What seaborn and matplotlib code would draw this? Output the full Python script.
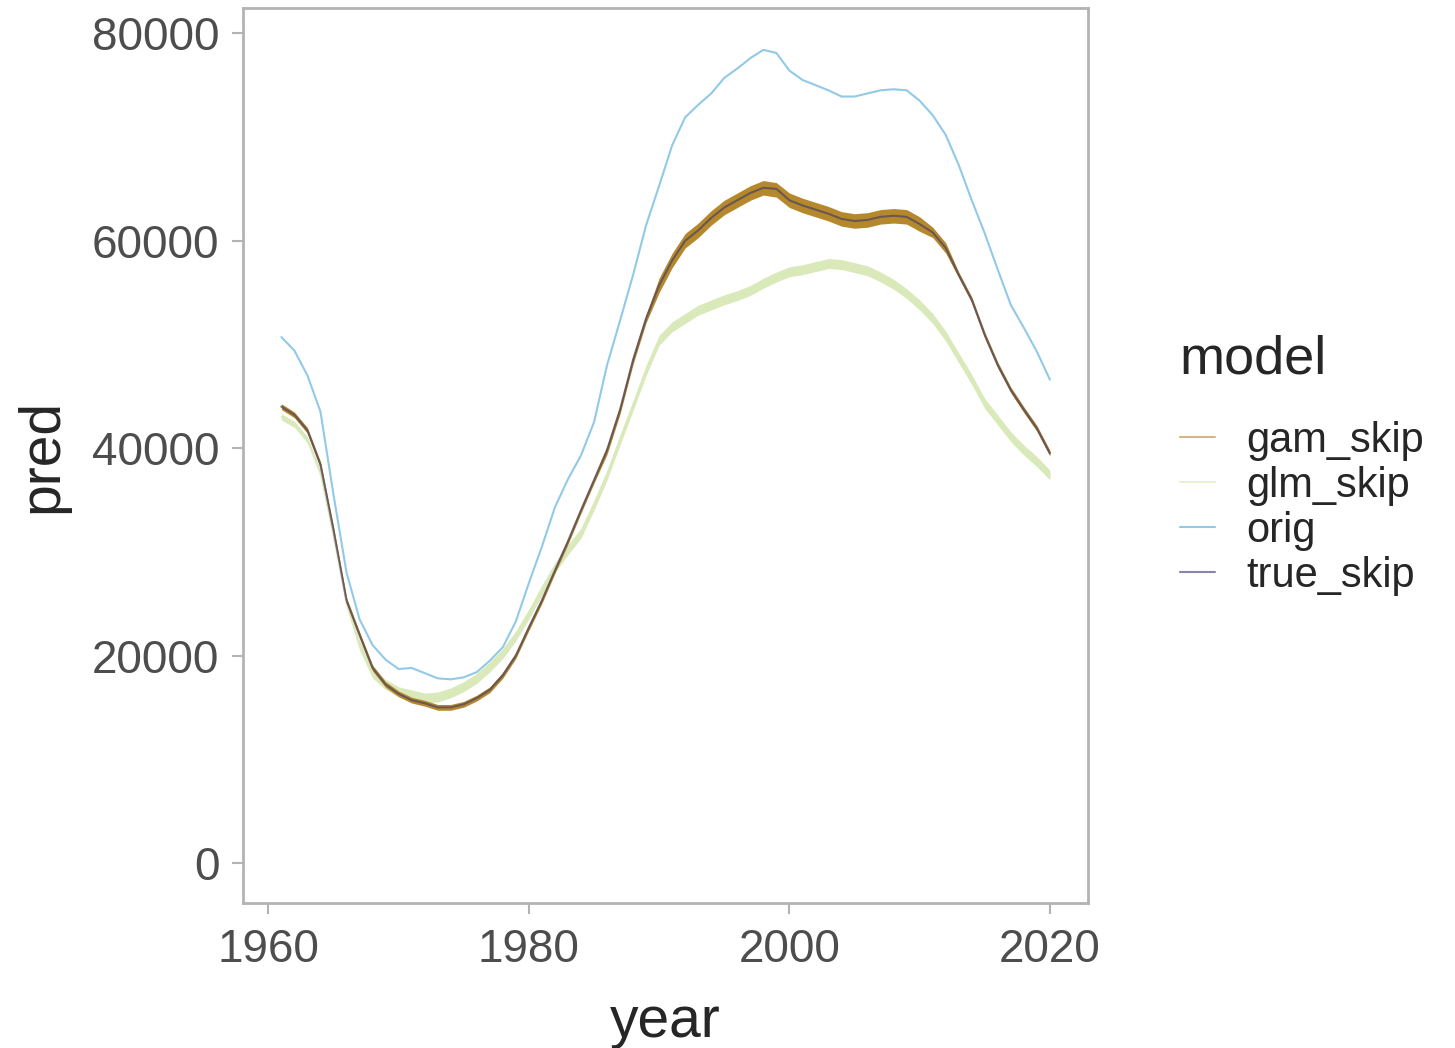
import numpy as np
import pandas as pd
import matplotlib
matplotlib.use('Agg')
import matplotlib.pyplot as plt
import seaborn as sns

# values, one per year 1961..2020
years = list(range(1961, 2021))

orig = [50700, 49400, 47000, 43500, 35500, 28000, 23500, 21000, 19600, 18700,
        18800, 18300, 17800, 17700, 17900, 18400, 19500, 20800, 23300, 27000,
        30500, 34300, 37000, 39300, 42500, 48000, 52300, 56700, 61500, 65300,
        69200, 71900, 73100, 74200, 75700, 76600, 77600, 78400, 78100, 76400,
        75500, 75000, 74500, 73900, 73900, 74200, 74500, 74600, 74500, 73500,
        72100, 70200, 67300, 63900, 60700, 57200, 53800, 51600, 49300, 46600]

gam_skip = [44000, 43200, 41700, 38400, 32100, 25300, 22000, 18800, 17200, 16300,
            15700, 15400, 15000, 15000, 15300, 15900, 16700, 18100, 20000, 22700,
            25300, 28200, 31000, 34000, 36900, 39800, 43700, 48500, 52500, 55700,
            58100, 60000, 61000, 62200, 63200, 63900, 64600, 65100, 64900, 63900,
            63400, 63000, 62600, 62100, 61900, 62000, 62300, 62400, 62300, 61600,
            60800, 59300, 56700, 54300, 50900, 48000, 45600, 43700, 41900, 39500]

gam_half = [280] * 25 + [400] * 4 + [700] * 21 + [500] * 2 + [280] * 8

glm_skip = [43000, 42300, 40800, 37600, 31500, 25000, 21000, 18300, 17200, 16500,
            16200, 15900, 16000, 16400, 17000, 17800, 18900, 20200, 21900, 24000,
            26300, 28500, 30200, 31800, 34500, 37400, 40800, 44100, 47500, 50400,
            51700, 52500, 53300, 53800, 54300, 54700, 55200, 55900, 56500, 57000,
            57200, 57500, 57800, 57700, 57400, 57100, 56500, 55800, 54900, 53800,
            52500, 50800, 48700, 46600, 44300, 42700, 41100, 39800, 38700, 37400]

glm_half = [300] * 6 + [480] * 54

true_skip = [44000, 43200, 41700, 38400, 32100, 25300, 22000, 18800, 17200, 16300,
             15700, 15400, 15000, 15000, 15300, 15900, 16700, 18100, 20000, 22700,
             25300, 28200, 31000, 34000, 36900, 39800, 43700, 48500, 52500, 55700,
             58100, 60000, 61000, 62200, 63200, 63900, 64600, 65100, 65000, 63900,
             63400, 63000, 62600, 62100, 61900, 62000, 62300, 62400, 62300, 61600,
             60800, 59300, 56700, 54300, 50900, 48000, 45600, 43700, 41900, 39500]

models = ['gam_skip', 'glm_skip', 'orig', 'true_skip']
colors = {'gam_skip': '#b5892b', 'glm_skip': '#d9e9b9',
          'orig': '#4aa6d8', 'true_skip': '#39346e'}
widths = {'gam_skip': 1.5, 'glm_skip': 1.5, 'orig': 1.5, 'true_skip': 1.8}

df = pd.DataFrame({
    'year': years * 4,
    'pred': gam_skip + glm_skip + orig + true_skip,
    'model': [m for m in models for _ in years],
})

sns.set_theme(style='white')
plt.rcParams['font.family'] = ['Liberation Sans', 'DejaVu Sans']

fig = plt.figure(figsize=(14.55, 10.48), dpi=100)
ax = fig.add_axes([0.167, 0.138, 0.581, 0.854])

yr = np.array(years)
ax.fill_between(yr, np.array(glm_skip) - np.array(glm_half), np.array(glm_skip) + np.array(glm_half),
                color=colors['glm_skip'], lw=0, zorder=2)
ax.fill_between(yr, np.array(gam_skip) - np.array(gam_half), np.array(gam_skip) + np.array(gam_half),
                color=colors['gam_skip'], lw=0, zorder=3)

for m in models:
    sub = df[df.model == m]
    sns.lineplot(data=sub, x='year', y='pred', ax=ax, color=colors[m],
                 lw=widths[m], label=m, zorder=4 if m == 'true_skip' else 2)

ax.set_xlim(1958.05, 2022.95)
ax.set_ylim(-3900, 82400)
ax.set_xticks([1960, 1980, 2000, 2020])
ax.set_yticks([0, 20000, 40000, 60000, 80000])

for s in ax.spines.values():
    s.set_color('#b3b3b3')
    s.set_linewidth(2)
ax.tick_params(axis='both', direction='out', length=8, width=1.5, color='#b3b3b3',
               labelsize=33, labelcolor='#4d4d4d')
ax.tick_params(axis='x', pad=10)
ax.tick_params(axis='y', pad=9)
ax.tick_params(bottom=True, left=True)

ax.set_xlabel('year', fontsize=41, labelpad=16)
ax.set_ylabel('pred', fontsize=41, labelpad=16)

handles, labels = ax.get_legend_handles_labels()
for h in handles:
    h.set_alpha(0.6)
    h.set_linewidth(1.5)
leg = ax.legend(handles, labels, title='model', loc='upper left', frameon=False,
                bbox_to_anchor=(1142 / 1455, 1 - 297 / 1048), bbox_transform=fig.transFigure,
                fontsize=30, title_fontsize=39, handlelength=0.85, handletextpad=0.75,
                labelspacing=0.12, alignment='left')
leg._legend_box.sep = 26

fig.savefig('out.png', dpi=100, facecolor='white')
